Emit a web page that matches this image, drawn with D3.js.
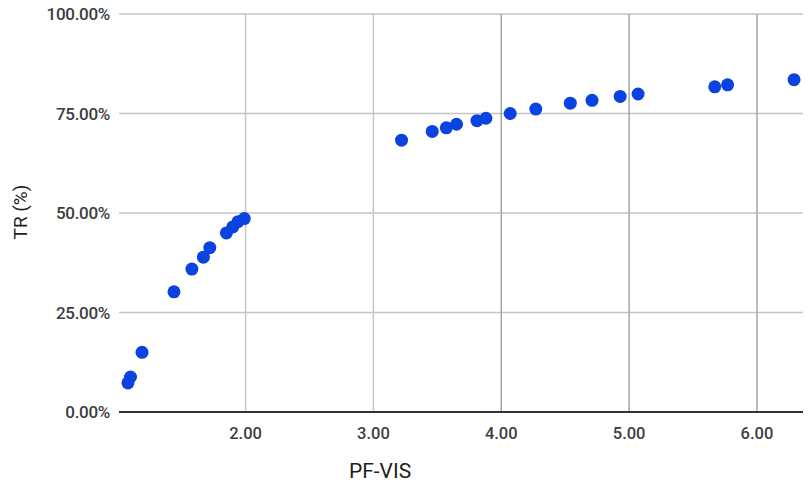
<!DOCTYPE html>
<html>
<head>
<meta charset="utf-8">
<script src="https://cdn.jsdelivr.net/npm/d3@7"></script>
<style>
  html, body { margin: 0; padding: 0; background: #fff; }
  svg { display: block; font-family: Roboto, "Noto Sans", sans-serif; }
</style>
</head>
<body>
<svg id="chart" width="810" height="487"></svg>
<script>
// PF-VIS values (x) and TR in % (y)
const pfVis = [1.08, 1.10, 1.19, 1.44, 1.58, 1.67, 1.72, 1.85, 1.90, 1.94, 1.99,
               3.22, 3.46, 3.57, 3.65, 3.81, 3.88, 4.07, 4.27, 4.54, 4.71, 4.93, 5.07,
               5.67, 5.77, 6.29];
const trPct = [7.3, 8.8, 15.0, 30.2, 35.9, 38.9, 41.3, 45.0, 46.5, 47.8, 48.6,
               68.3, 70.5, 71.4, 72.3, 73.2, 73.8, 75.0, 76.1, 77.6, 78.3, 79.3, 79.9,
               81.7, 82.2, 83.5];
const xTicks = [2, 3, 4, 5, 6];
const yTicks = [0, 25, 50, 75, 100];

const svg = d3.select("#chart");
const plotLeft = 119, plotRight = 803, plotTop = 14, plotBottom = 412;

const x = d3.scaleLinear().domain([1.01, 6.36]).range([plotLeft, plotRight]);
const y = d3.scaleLinear().domain([0, 100]).range([plotBottom, plotTop]);

// horizontal gridlines
svg.append("g")
    .selectAll("line")
    .data(yTicks.filter(d => d > 0))
    .join("line")
    .attr("x1", plotLeft).attr("x2", plotRight)
    .attr("y1", d => y(d)).attr("y2", d => y(d))
    .attr("stroke", "#c4c4c4")
    .attr("stroke-width", 1.5);

// vertical gridlines
svg.append("g")
    .selectAll("line")
    .data(xTicks)
    .join("line")
    .attr("x1", d => x(d)).attr("x2", d => x(d))
    .attr("y1", plotTop).attr("y2", plotBottom)
    .attr("stroke", d => d < 4 ? "#c8c8c8" : "#a6a6a6")
    .attr("stroke-width", 1.5);

// y tick labels
svg.append("g")
    .selectAll("text")
    .data(yTicks)
    .join("text")
    .attr("x", 110)
    .attr("y", d => y(d))
    .attr("dy", "0.36em")
    .attr("text-anchor", "end")
    .attr("fill", "#3d3d3d")
    .style("font-size", "17px")
    .style("font-weight", "500")
    .style("letter-spacing", "-0.3px")
    .text(d => d3.format(".2f")(d) + "%");

// x tick labels
svg.append("g")
    .selectAll("text")
    .data(xTicks)
    .join("text")
    .attr("x", d => x(d))
    .attr("y", 439)
    .attr("text-anchor", "middle")
    .attr("fill", "#3d3d3d")
    .style("font-size", "16.5px")
    .style("font-weight", "500")
    .text(d => d3.format(".2f")(d));

// baseline
svg.append("line")
    .attr("x1", plotLeft).attr("x2", plotRight)
    .attr("y1", y(0)).attr("y2", y(0))
    .attr("stroke", "#333")
    .attr("stroke-width", 2);

// points
svg.append("g")
    .selectAll("circle")
    .data(pfVis.map((v, i) => [v, trPct[i]]))
    .join("circle")
    .attr("cx", d => x(d[0]))
    .attr("cy", d => y(d[1]))
    .attr("r", 6.5)
    .attr("fill", "#0b43e0");

// axis titles
svg.append("text")
    .attr("x", 380)
    .attr("y", 478)
    .attr("text-anchor", "middle")
    .attr("fill", "#1e1e1e")
    .style("font-size", "21px")
    .text("PF-VIS");

svg.append("text")
    .attr("transform", "translate(27,212) rotate(-90)")
    .attr("text-anchor", "middle")
    .attr("fill", "#1e1e1e")
    .style("font-size", "19px")
    .text("TR (%)");
</script>
</body>
</html>
